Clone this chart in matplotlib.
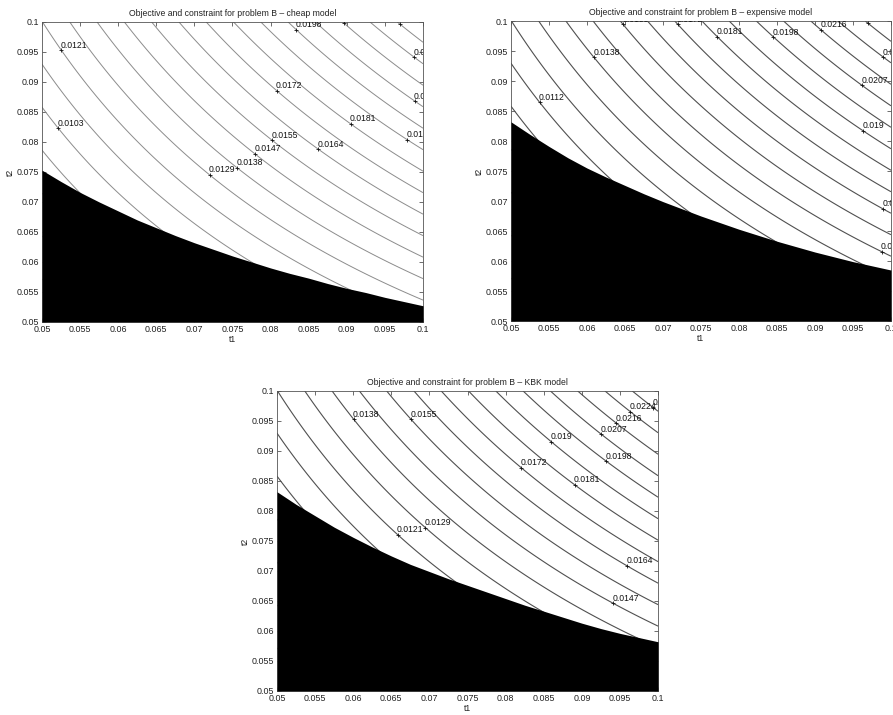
import numpy as np
import matplotlib
matplotlib.use("Agg")
import matplotlib.pyplot as plt
from matplotlib.transforms import ScaledTranslation

plt.rcParams['font.family'] = ['Liberation Sans', 'DejaVu Sans']

# ---------------- data ----------------
# design variables (axis grid)
t1_grid = np.linspace(0.05, 0.1, 301)
t2_grid = np.linspace(0.05, 0.1, 301)
# objective: f ~ scale * t1 * t2
objective_scale = 2.41

contour_levels = [0.006025, 0.006888, 0.007751, 0.008614, 0.009477, 0.01034,
                  0.011203, 0.012066, 0.012929, 0.013792, 0.014655, 0.015518,
                  0.016381, 0.017244, 0.018107, 0.01897, 0.019833, 0.020696,
                  0.021559, 0.022422, 0.023285]

tick_values = [0.05, 0.055, 0.06, 0.065, 0.07, 0.075, 0.08, 0.085, 0.09, 0.095, 0.1]
tick_labels = ['0.05', '0.055', '0.06', '0.065', '0.07', '0.075', '0.08',
               '0.085', '0.09', '0.095', '0.1']

# constraint boundaries (infeasible region below), read along t1
boundary_t1 = [0.05, 0.0525, 0.055, 0.0575, 0.06, 0.0625, 0.065, 0.0675, 0.07, 0.0725,
               0.075, 0.0775, 0.08, 0.0825, 0.085, 0.0875, 0.09, 0.0925, 0.095, 0.0975, 0.1]
cheap_t2 = [0.0753, 0.0734, 0.0716, 0.0700, 0.0685, 0.0670, 0.0657, 0.0644, 0.0632, 0.0621,
            0.0610, 0.0600, 0.0590, 0.0581, 0.0573, 0.0564, 0.0556, 0.0549, 0.0541, 0.0534, 0.0527]
expensive_t2 = [0.0832, 0.0811, 0.0791, 0.0772, 0.0755, 0.0740, 0.0726, 0.0712, 0.0699, 0.0687,
                0.0675, 0.0664, 0.0653, 0.0643, 0.0633, 0.0624, 0.0615, 0.0607, 0.0599, 0.0592, 0.0585]
kbk_t2 = [0.0832, 0.0811, 0.0792, 0.0773, 0.0756, 0.0740, 0.0725, 0.0711, 0.0699, 0.0687,
          0.0676, 0.0665, 0.0654, 0.0643, 0.0633, 0.0623, 0.0613, 0.0604, 0.0596, 0.0589, 0.0582]

# approximate label anchor positions (t1, t2)
cheap_label_pts = [(0.0525, 0.0953), (0.0522, 0.0823), (0.0808, 0.0886), (0.0834, 0.0987),
                   (0.0905, 0.0830), (0.0802, 0.0803), (0.0863, 0.0789), (0.0780, 0.0781),
                   (0.0757, 0.0759), (0.0721, 0.0747), (0.0990, 0.0945), (0.0990, 0.0870),
                   (0.0980, 0.0806), (0.0895, 0.0997), (0.0970, 0.0997)]
expensive_label_pts = [(0.0609, 0.0939), (0.0537, 0.0864), (0.0771, 0.0973), (0.0845, 0.0973),
                       (0.0907, 0.0984), (0.0964, 0.0896), (0.0964, 0.0818), (0.0648, 0.0995),
                       (0.0720, 0.0995), (0.0970, 0.0996), (0.0992, 0.0943), (0.0990, 0.0688),
                       (0.0990, 0.0621)]
kbk_label_pts = [(0.0600, 0.0952), (0.0675, 0.0952), (0.0657, 0.0759), (0.0693, 0.0770),
                 (0.0820, 0.0871), (0.0890, 0.0843), (0.0860, 0.0916), (0.0932, 0.0884),
                 (0.0926, 0.0930), (0.0945, 0.0946), (0.0964, 0.0966), (0.0998, 0.0979),
                 (0.0960, 0.0710), (0.0941, 0.0646)]

FS = 6.2
TFS = 6.4

fig = plt.figure(figsize=(8.93, 7.15), dpi=100)


def draw_panel(rect, title, b_t2, label_pts, line_color, line_width):
    ax = fig.add_axes(rect)
    T1, T2 = np.meshgrid(t1_grid, t2_grid)
    F = objective_scale * T1 * T2
    cs = ax.contour(T1, T2, F, levels=contour_levels, colors=line_color,
                    linewidths=line_width, zorder=2)
    ax.fill_between(boundary_t1, 0.05, b_t2, color='black', lw=0, zorder=3)
    ax.set_xlim(0.05, 0.1)
    ax.set_ylim(0.05, 0.1)
    ax.set_xticks(tick_values)
    ax.set_xticklabels(tick_labels)
    ax.set_yticks(tick_values)
    ax.set_yticklabels(tick_labels)
    ax.tick_params(direction='in', top=True, right=True, length=3, width=0.5,
                   labelsize=TFS, pad=2, colors='#333333', labelcolor='#222222')
    for s in ax.spines.values():
        s.set_color('#555555')
        s.set_linewidth(0.6)
    ax.set_title(title, fontsize=FS, pad=4, color='#222222')
    ax.set_xlabel('t1', fontsize=FS, labelpad=1, color='#222222')
    ax.set_ylabel('t2', fontsize=FS, labelpad=1, color='#222222')

    before = set(id(t) for t in ax.texts)
    cs.clabel(contour_levels, manual=label_pts, inline=False, fmt='%.3g', fontsize=FS)
    new = [t for t in ax.texts if id(t) not in before]
    off = ScaledTranslation(-0.5 / 72, 0.3 / 72, fig.dpi_scale_trans)
    for t in new:
        x, y = t.get_position()
        s = t.get_text()
        t.remove()
        ax.plot([x], [y], marker='+', ms=3, mew=0.6, color='#111111', zorder=5)
        tt = ax.text(x, y, s, fontsize=FS, ha='left', va='bottom',
                     transform=ax.transData + off, color='#111111', zorder=5,
                     clip_on=True)
        tt.set_clip_path(ax.patch)
    return ax


draw_panel([0.047, 0.5497, 0.4267, 0.4196],
           'Objective and constraint for problem B \u2013 cheap model',
           cheap_t2, cheap_label_pts, '#8c8c8c', 0.7)
draw_panel([0.5722, 0.551, 0.4255, 0.4196],
           'Objective and constraint for problem B \u2013 expensive model',
           expensive_t2, expensive_label_pts, '#505050', 0.8)
draw_panel([0.3102, 0.0336, 0.4267, 0.4196],
           'Objective and constraint for problem B \u2013 KBK model',
           kbk_t2, kbk_label_pts, '#505050', 0.8)

fig.savefig('out.png', dpi=100, facecolor='white')
